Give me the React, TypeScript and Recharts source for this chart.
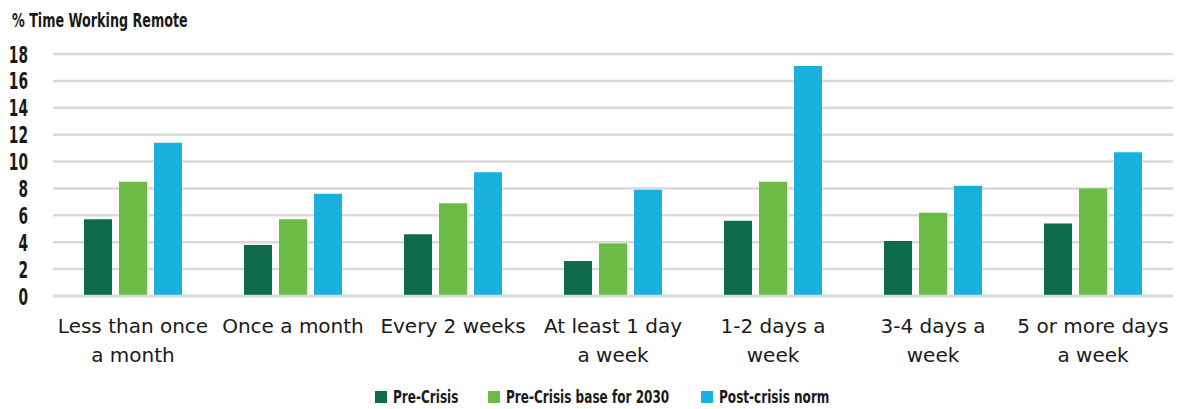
import React from 'react';
import { BarChart, Bar, XAxis, YAxis, CartesianGrid } from 'recharts';

const categories = [
  'Less than once a month',
  'Once a month',
  'Every 2 weeks',
  'At least 1 day a week',
  '1-2 days a week',
  '3-4 days a week',
  '5 or more days a week',
];
const categoryLines: string[][] = [
  ['Less than once', 'a month'],
  ['Once a month'],
  ['Every 2 weeks'],
  ['At least 1 day', 'a week'],
  ['1-2 days a', 'week'],
  ['3-4 days a', 'week'],
  ['5 or more days', 'a week'],
];
const preCrisis = [5.7, 3.8, 4.6, 2.6, 5.6, 4.1, 5.4];
const preCrisisBase2030 = [8.5, 5.7, 6.9, 3.9, 8.5, 6.2, 8.0];
const postCrisisNorm = [11.4, 7.6, 9.2, 7.9, 17.1, 8.2, 10.7];
const yTicks = [0, 2, 4, 6, 8, 10, 12, 14, 16, 18];
const seriesNames = ['Pre-Crisis', 'Pre-Crisis base for 2030', 'Post-crisis norm'];
const colors = ['#0E6B4D', '#6CBB45', '#18B1DD'];
const title = '% Time Working Remote';

const data = categories.map((c, i) => ({
  name: c,
  pre: preCrisis[i],
  base: preCrisisBase2030[i],
  post: postCrisisNorm[i],
}));

const FONT = "'DejaVu Sans', sans-serif";
const TEXT = '#1a1a1a';

const XTick = (props: any) => {
  const { x, y, payload } = props;
  const idx = categories.indexOf(payload.value);
  const lines = idx >= 0 ? categoryLines[idx] : [payload.value];
  return (
    <text x={x} y={y} textAnchor="middle" fill={TEXT} fontFamily={FONT} fontSize={20}>
      {lines.map((l, i) => (
        <tspan key={i} x={x} dy={29}>
          {l}
        </tspan>
      ))}
    </text>
  );
};

const YTick = (props: any) => {
  const { y, payload } = props;
  return (
    <g transform={`translate(28, ${y + 8.5}) scale(0.6, 1)`}>
      <text x={0} y={0} textAnchor="end" fill={TEXT} fontFamily={FONT} fontSize={23} fontWeight="bold">
        {payload.value}
      </text>
    </g>
  );
};

const legendX = [375, 488, 701];

export default function App() {
  return (
    <div style={{ position: 'absolute', left: 0, top: 0, width: 1194, height: 409, background: '#fff' }}>
      <BarChart
        width={1194}
        height={409}
        data={data}
        margin={{ top: 54, right: 21, left: 0, bottom: 43 }}
        barSize={28}
        barGap={7}
      >
        <CartesianGrid vertical={false} stroke="#D9D9D9" strokeWidth={2.5} />
        <XAxis
          dataKey="name"
          axisLine={{ stroke: '#D9D9D9', strokeWidth: 2.5 }}
          tickLine={false}
          interval={0}
          height={70}
          tick={<XTick />}
        />
        <YAxis
          domain={[0, 18]}
          ticks={yTicks}
          width={53}
          axisLine={false}
          tickLine={false}
          tick={<YTick />}
          interval={0}
        />
        <Bar dataKey="pre" name={seriesNames[0]} fill={colors[0]} isAnimationActive={false} />
        <Bar dataKey="base" name={seriesNames[1]} fill={colors[1]} isAnimationActive={false} />
        <Bar dataKey="post" name={seriesNames[2]} fill={colors[2]} isAnimationActive={false} />
      </BarChart>
      <svg width={1194} height={409} style={{ position: 'absolute', left: 0, top: 0, pointerEvents: 'none' }}>
        <g transform="translate(12, 27) scale(0.67, 1)">
          <text x={0} y={0} fill={TEXT} fontFamily={FONT} fontSize={19} fontWeight="bold">
            {title}
          </text>
        </g>
        {seriesNames.map((n, i) => (
          <g key={n}>
            <rect x={legendX[i]} y={391} width={12} height={12} fill={colors[i]} />
            <g transform={`translate(${legendX[i] + 18}, 403) scale(0.71, 1)`}>
              <text x={0} y={0} fill={TEXT} fontFamily={FONT} fontSize={17} fontWeight="bold">
                {n}
              </text>
            </g>
          </g>
        ))}
      </svg>
    </div>
  );
}
